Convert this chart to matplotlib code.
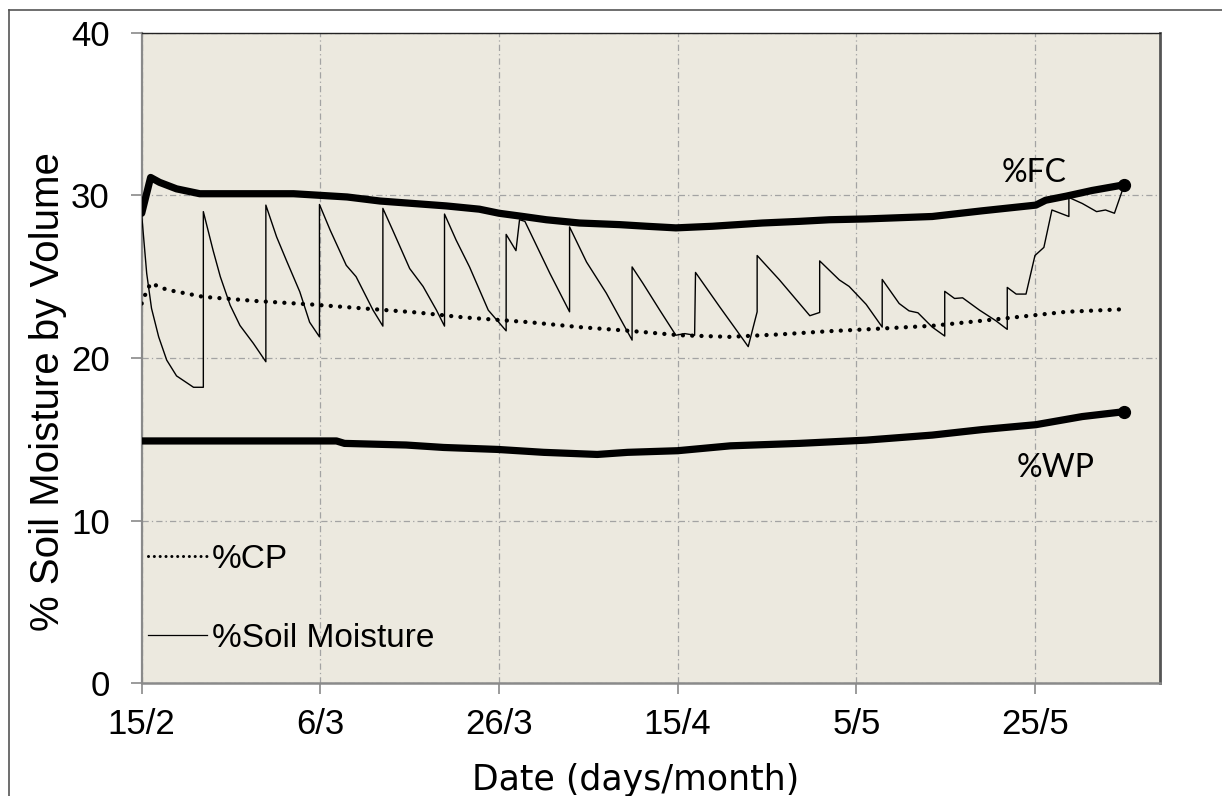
import matplotlib
matplotlib.use("Agg")
import matplotlib.pyplot as plt
from matplotlib.lines import Line2D

# ---- data (days since 15 Feb) ----
tick_days = [0, 20, 40, 60, 80, 100]
tick_labels = ["15/2", "6/3", "26/3", "15/4", "5/5", "25/5"]
y_ticks = [0, 10, 20, 30, 40]

fc_day = [0, 1.0, 2.0, 3.9, 6.5, 17, 20, 23, 26.7, 30.4, 34.1, 37.8, 40, 42.7, 45.3,
          49, 53.5, 56.5, 59.8, 63.9, 69.5, 73.6, 77, 81.1, 88.5, 94.1, 100.1, 101.2,
          103.5, 106.4, 110]
fc_val = [28.9, 31.1, 30.8, 30.4, 30.1, 30.1, 30.0, 29.9, 29.65, 29.5, 29.35, 29.15,
          28.9, 28.7, 28.5, 28.3, 28.2, 28.1, 28.0, 28.1, 28.3, 28.4, 28.5, 28.55,
          28.7, 29.05, 29.4, 29.7, 29.95, 30.3, 30.65]

wp_day = [0, 21.8, 22.7, 29.6, 33.8, 39.8, 45, 51, 54.4, 60, 65.9, 73.6, 81.1, 88.5,
          94.1, 100.1, 105.3, 110]
wp_val = [14.9, 14.9, 14.75, 14.65, 14.5, 14.38, 14.2, 14.07, 14.2, 14.3, 14.6, 14.75,
          14.95, 15.26, 15.6, 15.9, 16.4, 16.7]

cp_day = [0, 0.4, 1.0, 2.8, 6.9, 12.9, 18.8, 24.8, 30.8, 36, 43.4, 49, 54.6, 60.2,
          65.8, 71.4, 77, 81.1, 88.5, 96, 103.5, 110]
cp_val = [23.35, 23.9, 24.6, 24.2, 23.76, 23.5, 23.3, 23.05, 22.8, 22.5, 22.2, 21.9,
          21.67, 21.4, 21.3, 21.45, 21.65, 21.76, 21.98, 22.4, 22.84, 23.0]

sm_day = [0, 0.56, 1.1, 1.9, 2.8, 3.9, 5.8, 6.9, 6.9, 8.0, 8.8, 9.9, 11.0, 12.5, 13.9,
          13.9, 15.1, 16.2, 17.7, 18.8, 19.9, 19.9, 21.1, 22.9, 24.0, 25.9, 27.0, 27.0,
          28.1, 30.0, 31.5, 33.0, 33.9, 33.9, 35.2, 36.7, 38.8, 40.8, 40.8, 41.9, 42.3,
          42.9, 45.7, 47.9, 47.9, 49.8, 52.0, 54.9, 54.9, 56.1, 58.0, 59.8, 60.8, 61.9,
          62.0, 64.7, 66.6, 67.9, 68.9, 68.9, 71.4, 74.8, 75.9, 75.9, 78.1, 79.2, 81.1,
          82.9, 82.9, 84.8, 85.9, 86.9, 88.5, 89.9, 89.9, 91.0, 91.9, 93.8, 95.6, 96.9,
          96.9, 97.9, 99.0, 100.0, 101.0, 101.9, 103.8, 103.8, 105.3, 106.9, 107.9,
          108.9, 110.0]
sm_val = [28.8, 25.2, 23.05, 21.3, 19.87, 18.9, 18.2, 18.2, 29.0, 26.6, 25.0, 23.25,
          22.0, 20.9, 19.77, 29.4, 27.45, 26.0, 24.07, 22.2, 21.3, 29.44, 27.86, 25.7,
          25.0, 22.94, 21.96, 29.2, 27.86, 25.5, 24.4, 22.94, 21.96, 28.85, 27.25, 25.6,
          22.94, 21.67, 27.6, 26.6, 28.5, 28.4, 25.2, 22.84, 28.06, 25.9, 24.0, 21.1,
          25.6, 24.6, 22.94, 21.4, 21.5, 21.4, 25.26, 23.15, 21.7, 20.7, 22.84, 26.3,
          24.8, 22.6, 22.8, 25.97, 24.8, 24.4, 23.3, 21.9, 24.83, 23.35, 22.9, 22.78,
          21.9, 21.35, 24.1, 23.66, 23.7, 22.94, 22.3, 21.76, 24.34, 23.93, 23.93, 26.3,
          26.8, 29.1, 28.7, 29.87, 29.5, 29.0, 29.1, 28.9, 30.65]

W, H = 1222, 796
fig = plt.figure(figsize=(W / 100, H / 100), dpi=100)
fig.patch.set_facecolor("white")

# outer chart frame
fig.add_artist(Line2D([9 / W, 1], [1 - 10 / H, 1 - 10 / H], transform=fig.transFigure,
                      color="#555555", lw=1.2))
fig.add_artist(Line2D([9 / W, 9 / W], [0, 1 - 10 / H], transform=fig.transFigure,
                      color="#555555", lw=1.2))

L, R, T, B = 141.7, 1160, 32.7, 683.3
ax = fig.add_axes([L / W, 1 - B / H, (R - L) / W, (B - T) / H])
ax.set_facecolor("#ECE9DF")

ax.plot(fc_day, fc_val, color="black", lw=5.2, solid_capstyle="round",
        solid_joinstyle="round", marker="o", markevery=[-1], ms=8.5, zorder=4)
ax.plot(wp_day, wp_val, color="black", lw=5.2, solid_capstyle="round",
        solid_joinstyle="round", marker="o", markevery=[-1], ms=8.5, zorder=4)
ax.plot(cp_day, cp_val, color="black", lw=3.1, linestyle=(0, (0.01, 2.15)),
        dash_capstyle="round", zorder=3)
ax.plot(sm_day, sm_val, color="black", lw=1.0, zorder=5)

ax.set_xlim(0, 114)
ax.set_ylim(0, 40)
ax.set_xticks(tick_days)
ax.set_xticklabels(tick_labels)
ax.set_yticks(y_ticks)

for lab in ax.get_xticklabels() + ax.get_yticklabels():
    lab.set_fontfamily("Liberation Sans")
    lab.set_fontsize(25)

ax.tick_params(axis="y", direction="out", length=8, width=1.2, color="#8a8a8a", pad=15)
ax.tick_params(axis="x", direction="out", length=8, width=1.2, color="#8a8a8a", pad=10)

ax.grid(True, color="#a3a3a3", lw=0.9, linestyle=(0, (5, 2.5, 1, 2.5)))
ax.set_axisbelow(True)

ax.spines["left"].set_color("#8a8a8a")
ax.spines["left"].set_linewidth(1.6)
ax.spines["bottom"].set_color("#8a8a8a")
ax.spines["bottom"].set_linewidth(1.8)
ax.spines["top"].set_color("#222222")
ax.spines["top"].set_linewidth(1.0)
ax.spines["right"].set_color("#555555")
ax.spines["right"].set_linewidth(2.0)

ax.set_ylabel("% Soil Moisture by Volume", fontfamily="Liberation Sans", fontsize=29,
              va="center", ha="center")
ax.yaxis.set_label_coords((48 - L) / (R - L), (B - 392) / (B - T))
ax.set_xlabel("Date (days/month)", fontfamily="DejaVu Sans", fontsize=25,
              va="baseline", ha="center")
ax.xaxis.set_label_coords((636 - L) / (R - L), (B - 790) / (B - T))

ax.text(99.9, 31.4, "%FC", fontfamily="Lato", fontsize=23, ha="center", va="center")
ax.text(102.3, 13.25, "%WP", fontfamily="Lato", fontsize=23, ha="center", va="center")

handles = [Line2D([], [], color="black", lw=2.2, linestyle=(0, (0.01, 1.9)),
                  dash_capstyle="round"),
           Line2D([], [], color="black", lw=0.9)]
leg = ax.legend(handles, ["%CP", "%Soil Moisture"], loc="lower left",
                bbox_to_anchor=(0.0, 0.035), frameon=False, handlelength=1.75,
                handletextpad=0.15, labelspacing=1.45, borderaxespad=0.1,
                borderpad=0.1, prop={"family": "Liberation Sans", "size": 24})

fig.savefig("out.png", dpi=100, facecolor="white")
